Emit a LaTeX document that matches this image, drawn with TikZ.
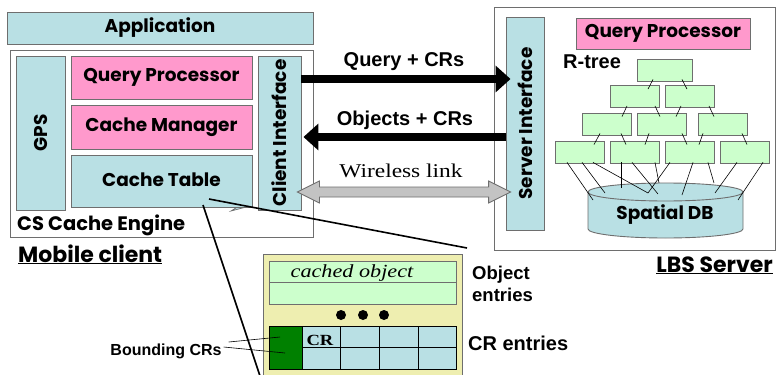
\documentclass[tikz,border=0pt]{standalone}
\usepackage{fontspec}
\setmainfont{Liberation Sans}
\newfontfamily\gothic{Poppins}
\newfontfamily\tms[FakeStretch=1.2]{Liberation Serif}
\usetikzlibrary{arrows.meta,calc}

\definecolor{paleblue}{RGB}{185,224,228}
\definecolor{pinkbox}{RGB}{255,153,204}
\definecolor{mint}{RGB}{204,255,204}
\definecolor{paleyellow}{RGB}{238,238,176}
\definecolor{darkgreen}{RGB}{0,128,0}
\definecolor{framegray}{RGB}{110,110,110}
\definecolor{linkgray}{RGB}{195,195,195}

\tikzset{
  box/.style={draw=framegray, line width=0.9pt, inner sep=0pt,
    font=\gothic\bfseries\fontsize{18.5}{21}\selectfont},
  bluebox/.style={box, fill=paleblue},
  pinkbox/.style={box, fill=pinkbox},
  outerbox/.style={draw=framegray, line width=0.9pt, fill=white, inner sep=0pt},
  gothiclabel/.style={inner sep=0pt, font=\gothic\bfseries\fontsize{18.5}{21}\selectfont},
  arialabel/.style={inner sep=0pt, font=\bfseries\fontsize{20}{23}\selectfont},
  treebox/.style={draw=framegray, fill=mint, line width=0.8pt,
    minimum width=49pt, minimum height=22pt, inner sep=0pt},
  treeline/.style={line width=0.6pt},
  fatarrow/.style={line width=8pt, -{Triangle[length=15pt,width=26pt]}},
  callout/.style={line width=1.6pt},
}

\begin{document}
\begin{tikzpicture}[x=1pt,y=-1pt]
\useasboundingbox (0,0) rectangle (780,375);
\fill[white] (0,0) rectangle (780,375);

% ---------------- mobile client ----------------
\node[bluebox, minimum width=306pt, minimum height=32pt] (app) at (160,28) {Application};
\node[outerbox, minimum width=303pt, minimum height=187pt] (client) at (161.5,143.5) {};
\node[bluebox, minimum width=49pt, minimum height=154pt] (gps) at (40.5,133) {};
\node[gothiclabel, rotate=90] (gpslabel) at (gps.center) {GPS};
\node[pinkbox, minimum width=181pt, minimum height=43pt] (qp) at (161.5,77.5) {Query Processor};
\node[pinkbox, minimum width=181pt, minimum height=44pt] (cm) at (161.5,127) {Cache Manager};
% cache table with its small tab at the lower right
\filldraw[fill=paleblue, draw=framegray, line width=0.7pt]
  (231,211) -- (239,206) -- (250,206) -- cycle;
\node[bluebox, minimum width=181pt, minimum height=52pt] (ct) at (161.5,181) {};
\node[gothiclabel] (ctlabel) at (161.5,180) {Cache Table};
\node[bluebox, minimum width=43pt, minimum height=154pt] (ci) at (279.5,133) {};
\node[gothiclabel, rotate=90] (cilabel) at (ci.center) {Client Interface};
\node[gothiclabel, anchor=base west, font=\gothic\bfseries\fontsize{19.5}{22}\selectfont]
  (engine) at (17,230) {CS Cache Engine};
\node[gothiclabel, anchor=base west, font=\gothic\bfseries\fontsize{22}{24}\selectfont]
  (mobile) at (18,262) {\underline{Mobile client}};

% ---------------- LBS server ----------------
\node[outerbox, minimum width=281pt, minimum height=243pt] (server) at (634.5,128.5) {};
\node[bluebox, minimum width=38pt, minimum height=213pt] (si) at (525,123.5) {};
\node[gothiclabel, rotate=90] (silabel) at (si.center) {Server Interface};
\node[pinkbox, minimum width=174pt, minimum height=31pt] (sqp) at (663,33.5) {Query Processor};
\node[arialabel, anchor=west] (rtree) at (563,62) {R-tree};
\node[gothiclabel, anchor=base east, font=\gothic\bfseries\fontsize{22}{24}\selectfont]
  (lbs) at (773,272) {\underline{LBS Server}};

% R-tree nodes
\node[treebox, minimum width=55pt] (t)   at (664.5,70) {};
\node[treebox] (l2a) at (634.5,96.5) {};
\node[treebox] (l2b) at (689.5,96.5) {};
\node[treebox] (l3a) at (607,124) {};
\node[treebox] (l3b) at (662,124) {};
\node[treebox] (l3c) at (722.5,124) {};
\node[treebox] (l4a) at (579.5,152) {};
\node[treebox] (l4b) at (634.5,152) {};
\node[treebox] (l4c) at (689.5,152) {};
\node[treebox] (l4d) at (744.5,152) {};

\draw[treeline] ([xshift=-11.5pt,yshift=2pt]t.south) -- ([xshift=13.5pt,yshift=-4pt]l2a.north);
\draw[treeline] ([xshift=17.5pt,yshift=2pt]t.south) -- ([xshift=-2.5pt,yshift=-4pt]l2b.north);
\draw[treeline] ([xshift=-7.5pt,yshift=2pt]l2a.south) -- ([xshift=15pt,yshift=-4pt]l3a.north);
\draw[treeline] ([xshift=20.5pt,yshift=2pt]l2a.south) -- ([xshift=-2pt,yshift=-4pt]l3b.north);
\draw[treeline] ([xshift=-8.5pt,yshift=2pt]l2b.south) -- ([xshift=14pt,yshift=-4pt]l3b.north);
\draw[treeline] ([xshift=19.5pt,yshift=2pt]l2b.south) -- ([xshift=-8.5pt,yshift=-4pt]l3c.north);
\draw[treeline] ([xshift=-7pt,yshift=2pt]l3a.south) -- ([xshift=14.5pt,yshift=-4pt]l4a.north);
\draw[treeline] ([xshift=14pt,yshift=2pt]l3a.south) -- ([xshift=-8.5pt,yshift=-4pt]l4b.north);
\draw[treeline] ([xshift=-13pt,yshift=2pt]l3b.south) -- ([xshift=10.5pt,yshift=-4pt]l4b.north);
\draw[treeline] ([xshift=20pt,yshift=2pt]l3b.south) -- ([xshift=-2.5pt,yshift=-4pt]l4c.north);
\draw[treeline] ([xshift=-19.5pt,yshift=2pt]l3c.south) -- ([xshift=9.5pt,yshift=-4pt]l4c.north);
\draw[treeline] ([xshift=19.5pt,yshift=2pt]l3c.south) -- ([xshift=2.5pt,yshift=-4pt]l4d.north);

% spatial database cylinder
\filldraw[fill=paleblue, draw=framegray, line width=0.9pt]
  (588,192) -- (588,229) arc[start angle=180, end angle=360, x radius=77.5pt, y radius=9pt]
  -- (743,192) arc[start angle=0, end angle=180, x radius=77.5pt, y radius=9pt] -- cycle;
\draw[framegray, line width=0.9pt]
  (588,192) arc[start angle=180, end angle=360, x radius=77.5pt, y radius=9pt];
\coordinate (dbtop) at (665.5,192);
\node[gothiclabel] (db) at (665,215) {Spatial DB};

% leaf entries pointing into the database
\draw[treeline] ([xshift=-12.5pt,yshift=1pt]l4a.south) -- ($(dbtop)+(-72.5,8)$);
\draw[treeline] ([xshift=2.5pt,yshift=1pt]l4a.south) -- ($(dbtop)+(-60.5,1)$);
\draw[treeline] ([xshift=13.5pt,yshift=1pt]l4a.south) -- ($(dbtop)+(-17.5,1)$);
\draw[treeline] ([xshift=-13.5pt,yshift=1pt]l4b.south) -- ($(dbtop)+(-44.5,-4)$);
\draw[treeline] ([xshift=-2.5pt,yshift=1pt]l4b.south) -- ($(dbtop)+(-7.5,2)$);
\draw[treeline] ([xshift=20.5pt,yshift=1pt]l4b.south) -- ($(dbtop)+(-6.5,-9)$);
\draw[treeline] ([xshift=-19.5pt,yshift=1pt]l4c.south) -- ($(dbtop)+(-17.5,1)$);
\draw[treeline] ([xshift=3.5pt,yshift=1pt]l4c.south) -- ($(dbtop)+(16.5,3)$);
\draw[treeline] ([xshift=18.5pt,yshift=1pt]l4c.south) -- ($(dbtop)+(48.5,-9)$);
\draw[treeline] ([xshift=-7.5pt,yshift=1pt]l4d.south) -- ($(dbtop)+(49.5,1)$);
\draw[treeline] ([xshift=18.5pt,yshift=1pt]l4d.south) -- ($(dbtop)+(72.5,8)$);

% ---------------- messages between client and server ----------------
\coordinate (rowQ) at (400,79);
\coordinate (rowO) at (400,137);
\coordinate (rowW) at (400,192);
\draw[fatarrow] (ci.east |- rowQ) -- ($(si.west |- rowQ)+(5,0)$);
\node[arialabel] (qlabel) at (404,62) {Query + CRs};
\draw[fatarrow] (si.west |- rowO) -- ($(ci.east |- rowO)+(2,0)$);
\node[arialabel] (olabel) at (405,120) {Objects + CRs};
\coordinate (wl) at ($(ci.east |- rowW)+(-4,0)$);
\coordinate (wr) at ($(si.west |- rowW)+(5,0)$);
\filldraw[fill=linkgray, draw=framegray, line width=0.9pt]
  (wl) -- ++(22,-11) -- ++(0,6) -- ($(wr)+(-22,-5)$) -- ++(0,-6) -- (wr)
  -- ++(-22,11) -- ++(0,-6) -- ($(wl)+(22,5)$) -- ++(0,6) -- cycle;
\node[inner sep=0pt, font=\tms\fontsize{19.5}{22}\selectfont] (wlabel) at (401,171) {Wireless link};

% ---------------- cache table detail ----------------
\filldraw[fill=paleyellow, draw=framegray, line width=0.9pt] (263,254) rectangle (462,390);
\node[draw=framegray, fill=mint, line width=0.9pt, minimum width=187pt, minimum height=21pt, inner sep=0pt]
  (obj1) at (362.5,271.5) {};
\node[draw=framegray, fill=mint, line width=0.9pt, minimum width=187pt, minimum height=22pt, inner sep=0pt]
  (obj2) at (362.5,293) {};
\node[inner sep=0pt, font=\tms\itshape\fontsize{18.5}{20}\selectfont] (cached) at (352,273) {cached object};
\foreach \cx/\nm in {341/d1, 363/d2, 384/d3}
  \node[circle, fill=black, minimum size=10pt, inner sep=0pt] (\nm) at (\cx,315) {};

% CR grid
\fill[paleblue] (302,326) rectangle (456,369);
\node[fill=darkgreen, minimum width=33pt, minimum height=21pt, inner sep=0pt] (bc1) at (285.5,336.5) {};
\node[fill=darkgreen, minimum width=33pt, minimum height=22pt, inner sep=0pt] (bc2) at (285.5,358) {};
\draw[line width=0.9pt] (269,326) rectangle (456,369);
\draw[line width=0.9pt] (302,347) -- (456,347);
\foreach \gx in {302,340,379,418}
  \draw[line width=0.9pt] (\gx,326) -- (\gx,369);
\node[inner sep=0pt, font=\tms\bfseries\fontsize{15.5}{17}\selectfont] (crcell) at (320,340) {CR};

\node[inner sep=0pt, font=\bfseries\fontsize{16}{18}\selectfont] (bcl) at (166,351) {Bounding CRs};
\draw[line width=0.6pt] ($(bcl.east)+(7,-9)$) -- ($(bc1.center)+(-5.5,0.5)$);
\draw[line width=0.6pt] ($(bcl.east)+(2,-4)$) -- ($(bc2.center)+(-0.5,-5)$);

\node[arialabel, anchor=west, align=left, font=\bfseries\fontsize{18.5}{22}\selectfont]
  (objent) at (472,284) {Object\\entries};
\node[arialabel, anchor=west, font=\bfseries\fontsize{20}{22}\selectfont] (crent) at (468,343) {CR entries};

% call-out lines from the cache table to its detail
\coordinate (zoomR) at (467,248);
\coordinate (zoomL) at (262,382);
\draw[callout] ($(ct.center)+(47.5,18)$) -- (zoomR);
\draw[callout] ($(ct.center)+(41.5,24)$) -- (zoomL);
\end{tikzpicture}
\end{document}
